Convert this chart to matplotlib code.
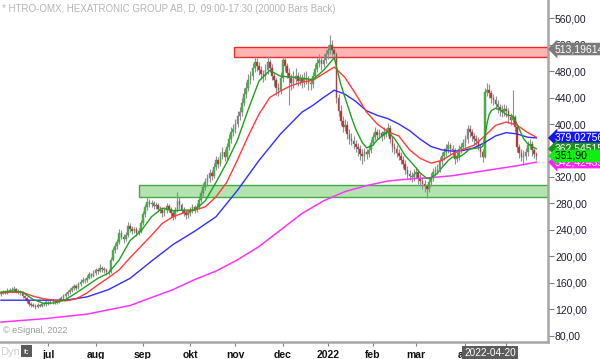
import matplotlib
matplotlib.use("Agg")
import matplotlib.pyplot as plt
from matplotlib.patches import Rectangle
import numpy as np

plt.rcParams['font.family'] = ['Liberation Sans', 'DejaVu Sans']

# daily bars, HTRO (~jun 2021 - maj 2022)
closes = [145, 147, 146, 148, 150, 149, 151, 148, 147, 146,
          140, 137, 133, 129, 127, 126, 124, 127, 126, 129,
          128, 131, 130, 132, 131, 133, 132, 135, 137, 140,
          143, 146, 149, 152, 155, 153, 158, 162, 165, 164,
          168, 173, 171, 175, 179, 178, 183, 181, 179, 176,
          177, 195, 210, 216, 222, 236, 230, 226, 232, 246,
          242, 239, 241, 236, 238, 250, 264, 274, 282, 279,
          281, 276, 278, 272, 270, 265, 270, 276, 272, 265,
          260, 270, 284, 278, 270, 266, 262, 265, 270, 274,
          271, 275, 286, 296, 305, 312, 318, 326, 322, 335,
          345, 340, 352, 358, 350, 365, 378, 388, 392, 400,
          412, 418, 432, 446, 455, 466, 472, 484, 493, 488,
          481, 476, 472, 482, 493, 485, 472, 466, 455, 452,
          470, 497, 488, 477, 470, 462, 468, 472, 465, 468,
          463, 470, 466, 462, 460, 472, 483, 492, 496, 490,
          497, 505, 512, 520, 512, 505, 440, 420, 405, 396,
          398, 385, 378, 375, 370, 366, 362, 355, 352, 357,
          355, 360, 372, 380, 388, 384, 386, 382, 388, 386,
          394, 378, 365, 362, 356, 352, 346, 340, 331, 324,
          322, 320, 325, 328, 318, 314, 310, 306, 302, 312,
          320, 328, 330, 332, 344, 352, 358, 363, 368, 362,
          360, 347, 352, 362, 366, 372, 378, 393, 388, 382,
          378, 375, 366, 358, 350, 448, 452, 447, 440, 436,
          430, 425, 421, 418, 422, 420, 410, 406, 410, 395,
          365, 356, 350, 352, 358, 368, 370, 360, 355, 351.9]

highs = [148, 150, 149, 152, 153, 154, 155, 153, 151, 150,
         148, 142, 139, 135, 132, 130, 128, 130, 129, 131,
         132, 134, 133, 135, 134, 136, 135, 138, 140, 143,
         146, 149, 152, 156, 159, 158, 162, 166, 169, 168,
         172, 177, 175, 179, 183, 182, 188, 186, 184, 182,
         181, 199, 214, 221, 227, 241, 240, 234, 237, 252,
         250, 246, 245, 244, 243, 255, 268, 279, 290, 287,
         286, 284, 283, 281, 276, 273, 275, 281, 279, 275,
         268, 274, 298, 290, 281, 274, 270, 270, 275, 279,
         278, 280, 291, 301, 311, 318, 325, 332, 330, 341,
         352, 350, 358, 366, 362, 372, 385, 395, 400, 408,
         420, 426, 440, 455, 464, 475, 480, 492, 502, 500,
         494, 488, 482, 490, 502, 498, 490, 478, 470, 462,
         478, 503, 500, 492, 484, 476, 480, 485, 478, 476,
         475, 478, 480, 472, 470, 478, 490, 500, 506, 502,
         505, 512, 520, 535, 527, 515, 508, 446, 428, 412,
         408, 404, 392, 386, 382, 376, 372, 368, 362, 364,
         363, 368, 378, 386, 395, 393, 392, 390, 396, 394,
         402, 398, 382, 372, 368, 362, 358, 352, 345, 336,
         330, 328, 332, 335, 332, 324, 320, 316, 310, 318,
         326, 334, 337, 340, 350, 358, 364, 370, 375, 372,
         368, 364, 358, 368, 372, 378, 384, 398, 398, 392,
         386, 384, 380, 370, 362, 455, 462, 460, 452, 446,
         442, 436, 430, 428, 430, 428, 424, 416, 452, 414,
         398, 370, 362, 360, 364, 374, 378, 374, 364, 358]

lows = [141, 143, 143, 144, 146, 146, 147, 145, 143, 142,
        137, 134, 130, 126, 124, 123, 121, 122, 123, 124,
        125, 126, 127, 128, 128, 129, 129, 130, 133, 135,
        138, 141, 144, 147, 150, 149, 151, 156, 160, 160,
        161, 166, 167, 169, 172, 174, 176, 177, 175, 172,
        172, 175, 193, 206, 212, 219, 226, 221, 223, 229,
        237, 234, 235, 231, 232, 235, 247, 260, 270, 274,
        275, 271, 272, 267, 265, 260, 261, 266, 267, 260,
        255, 257, 267, 272, 265, 261, 257, 258, 261, 266,
        266, 267, 272, 282, 292, 300, 307, 313, 316, 318,
        330, 334, 336, 347, 344, 346, 360, 372, 382, 386,
        395, 406, 412, 427, 440, 450, 460, 466, 478, 480,
        474, 468, 464, 466, 475, 478, 466, 458, 444, 442,
        446, 464, 480, 470, 429, 452, 455, 462, 458, 459,
        455, 456, 460, 452, 452, 455, 468, 478, 486, 482,
        486, 492, 498, 505, 504, 496, 432, 412, 398, 388,
        390, 378, 370, 368, 362, 358, 352, 345, 340, 344,
        347, 350, 356, 368, 376, 378, 378, 375, 378, 380,
        382, 372, 358, 355, 350, 345, 340, 333, 325, 318,
        315, 312, 314, 318, 310, 306, 302, 298, 289, 298,
        306, 314, 322, 324, 328, 338, 346, 352, 356, 355,
        352, 340, 342, 346, 356, 360, 366, 372, 380, 375,
        370, 368, 360, 350, 342, 348, 442, 440, 432, 428,
        422, 416, 412, 410, 412, 410, 402, 398, 400, 388,
        358, 348, 344, 338, 346, 352, 362, 352, 348, 346]

first_open = 144
opens = [first_open] + closes[:-1]

# moving averages, read at selected bars
green_idx = [0, 5, 10, 15, 20, 25, 30, 35, 40, 45, 50, 55, 60, 65, 70, 75, 80, 85, 90, 95,
             100, 105, 110, 115, 120, 125, 130, 135, 140, 145, 150, 155, 158, 160, 163, 165,
             168, 170, 173, 175, 178, 180, 183, 185, 188, 190, 193, 195, 198, 200, 203, 205,
             208, 210, 213, 215, 218, 220, 222, 224, 225, 226, 227, 228, 230, 233, 235, 238,
             240, 243, 245, 247, 249]
green_val = [146, 148, 146, 135, 129, 130, 135, 145, 156, 167, 175, 195, 224, 238, 260, 273, 269, 270, 270, 284,
             312, 342, 376, 422, 465, 481, 472, 471, 469, 467, 481, 500, 460, 440, 410, 392,
             372, 364, 368, 376, 384, 388, 378, 368, 352, 345, 334, 326, 318, 318, 326, 334,
             345, 350, 350, 354, 362, 363, 364, 366, 380, 400, 414, 420, 424, 420, 414, 412,
             400, 378, 370, 366, 362.5]

red_idx = [0, 5, 10, 15, 20, 25, 30, 35, 40, 45, 50, 55, 60, 65, 70, 75, 80, 85, 90, 95,
           100, 105, 110, 115, 120, 125, 130, 135, 140, 145, 150, 155, 160, 165, 170, 175,
           180, 185, 190, 195, 200, 205, 210, 215, 220, 225, 230, 235, 240, 245, 249]
red_val = [145, 146, 146, 140, 136, 134, 133, 136, 145, 157, 168, 180, 198, 215, 232, 250, 260, 266, 270, 275,
           290, 312, 346, 382, 415, 440, 450, 458, 463, 466, 476, 486, 470, 445, 418, 400,
           388, 382, 361, 348, 341, 345, 355, 362, 368, 382, 398, 403, 398, 387, 380]

blue_idx = [0, 10, 20, 30, 40, 50, 60, 70, 80, 90, 100, 110, 120, 130, 140, 145, 150, 155, 160,
            165, 170, 175, 180, 185, 190, 195, 200, 205, 210, 215, 220, 225, 230, 235, 240, 245, 249]
blue_val = [134, 134, 134, 134, 139, 150, 167, 193, 218, 238, 260, 300, 345, 385, 418, 428, 440, 451, 445,
            434, 420, 413, 408, 400, 390, 377, 366, 361, 359, 360, 364, 372, 382, 387, 385, 380, 379.03]

mag_idx = [0, 20, 40, 60, 80, 90, 100, 110, 120, 130, 140, 150, 160, 170, 180, 190, 200, 210,
           220, 230, 240, 249]
mag_val = [101, 106, 113, 126, 150, 165, 178, 195, 215, 240, 265, 284, 298, 307, 314, 317, 319, 322,
           327, 332, 337, 342.42]

# zones (price levels)
support = (290, 308)
support_start = 64
resistance = (501, 516)
resistance_start = 108.5

month_pos = [22, 44, 66, 88, 109, 131, 152, 173, 193, 216, 235]
month_lbl = ['jul', 'aug', 'sep', 'okt', 'nov', 'dec', '2022', 'feb', 'mar', 'apr', 'maj']
yticks = [80, 120, 160, 200, 240, 280, 320, 360, 400, 440, 480, 520, 560]

fig = plt.figure(figsize=(6, 3.59), dpi=100)
ax = fig.add_axes([0, 17 / 359, 548 / 600, 342 / 359])
ax.set_xlim(-0.47, 254.4)
ax.set_ylim(70.9, 587.2)

# zones
xr = ax.get_xlim()[1]
ax.add_patch(Rectangle((support_start, support[0]), xr - support_start, support[1] - support[0],
                       facecolor='#b4e2b0', edgecolor='#3fae3f', lw=1, zorder=1))
ax.add_patch(Rectangle((resistance_start, resistance[0]), xr - resistance_start, resistance[1] - resistance[0],
                       facecolor='#ffb3b3', edgecolor='#ee2a2a', lw=1, zorder=1))

# candles
idx = np.arange(len(closes))
o = np.array(opens, float)
c = np.array(closes, float)
up = c >= o
ax.vlines(idx, lows, highs, color='#8f8f8f', lw=0.8, zorder=2)
ax.bar(idx[up], np.maximum(c - o, 0.8)[up], bottom=o[up], width=0.75,
       color='#2ec42e', edgecolor='#7a7a7a', lw=0.3, zorder=3)
ax.bar(idx[~up], np.maximum(o - c, 0.8)[~up], bottom=c[~up], width=0.75,
       color='#d42020', edgecolor='#7a7a7a', lw=0.3, zorder=3)

# moving averages
ax.plot(mag_idx, mag_val, color='#ff33ff', lw=1.1, zorder=4)
ax.plot(blue_idx, blue_val, color='#2f2fff', lw=1.0, zorder=4)
ax.plot(red_idx, red_val, color='#ff3b3b', lw=1.0, zorder=4)
ax.plot(green_idx, green_val, color='#1fa01f', lw=1.0, zorder=4)

# axes styling
for s in ['top', 'left']:
    ax.spines[s].set_visible(False)
for s in ['right', 'bottom']:
    ax.spines[s].set_color('#a6a6a6')
    ax.spines[s].set_linewidth(1.8)
ax.yaxis.tick_right()
ax.set_yticks(yticks)
ax.set_yticklabels([f'{v},00' for v in yticks])
ax.tick_params(axis='y', direction='out', length=4, width=0.8, color='#808080',
               labelsize=7.5, labelcolor='#1c1c30', pad=1)
ax.set_xticks(month_pos)
ax.set_xticklabels(month_lbl, fontweight='bold')
ax.tick_params(axis='x', direction='out', length=3, width=0.8, color='#808080',
               labelsize=7.5, labelcolor='#111111', pad=3)

# header / footer texts
ax.text(0.004, 0.988, '* HTRO-OMX, HEXATRONIC GROUP AB, D, 09:00-17:30 (20000 Bars Back)',
        transform=ax.transAxes, va='top', ha='left', fontsize=7, color='#b5b5b5')
ax.text(0.005, 0.02, '\u00a9 eSignal, 2022', transform=ax.transAxes, va='bottom', ha='left',
        fontsize=6.5, color='#9a9a9a')
fig.text(0.0, 7 / 359, 'Dyn', fontsize=8, color='#cfcfcf', va='center', ha='left')
fig.patches.append(Rectangle((21 / 600, 2 / 359), 11 / 600, 12 / 359, transform=fig.transFigure,
                             facecolor='#5a5a5a', edgecolor='none'))
fig.text(26.5 / 600, 6 / 359, 'fc', fontsize=5, color='white', ha='center', va='center')

# date cursor label
ax.text(227.5, 70.9 - 16, '2022-04-20', ha='center', va='center', fontsize=7.2, color='white',
        bbox=dict(boxstyle='square,pad=0.2', facecolor='#5c5c5c', edgecolor='none'),
        clip_on=False, zorder=10)

# price tags on right axis
def tag(v, txt, fc, tc, z):
    ax.text(1.012, v, txt, transform=ax.get_yaxis_transform(), ha='left', va='center',
            fontsize=7.5, color=tc, clip_on=False, zorder=z,
            bbox=dict(boxstyle='larrow,pad=0.12', facecolor=fc, edgecolor='none'))

tag(513.196145, '513,196145', '#7a7a7a', 'white', 10)
tag(379.027569, '379,027569', '#1414f0', 'white', 10)
tag(362.545156, '362,545156', '#1f8f1f', 'white', 11)
tag(342.424356, '342,424356', '#ff22ff', 'white', 12)
tag(351.90, '351,90        ', '#11ee11', 'black', 13)

fig.savefig('out.png', dpi=100)
